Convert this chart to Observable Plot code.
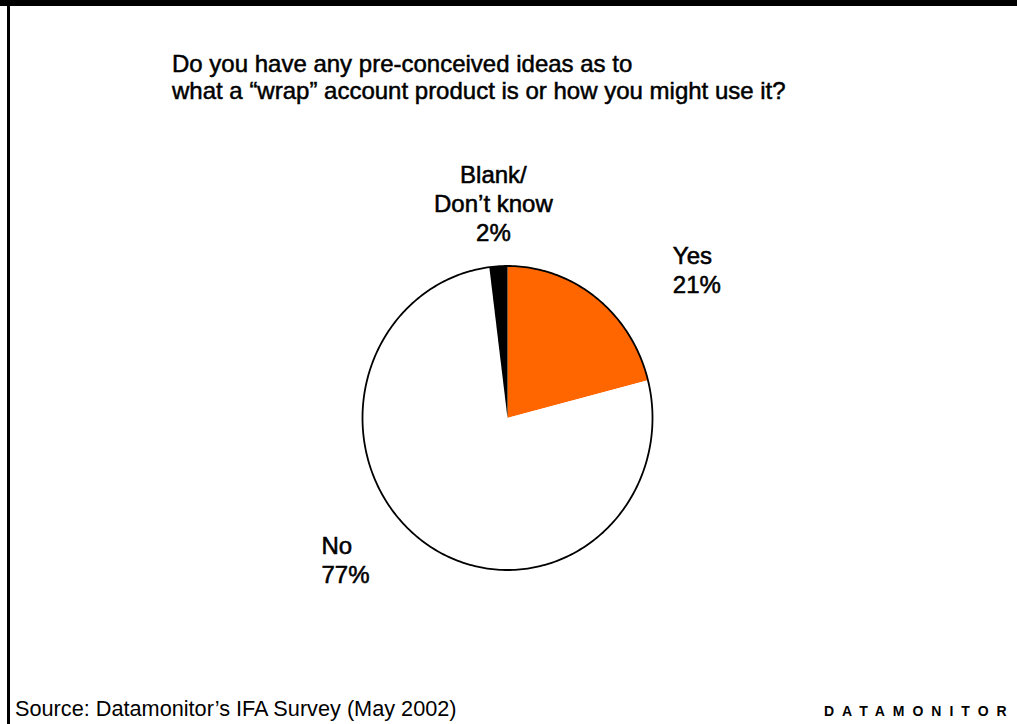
<!DOCTYPE html>
<html><head><meta charset="utf-8">
<script src="https://cdn.jsdelivr.net/npm/d3@7"></script>
<script src="https://cdn.jsdelivr.net/npm/@observablehq/plot@0.6"></script>
<style>
html,body{margin:0;padding:0;background:#fff;}
#page{position:relative;width:1017px;height:724px;overflow:hidden;background:#fff;font-family:"Liberation Sans",Arial,sans-serif;color:#000;}
#topbar{position:absolute;left:0;top:0;width:1017px;height:5.5px;background:#000;}
#leftbar{position:absolute;left:7px;top:0;width:2.5px;height:724px;background:#000;}
#chart{position:absolute;left:0;top:0;}
#title{position:absolute;left:172px;top:50.2px;font-size:24px;line-height:27px;-webkit-text-stroke:0.5px #000;white-space:nowrap;}
#source{position:absolute;left:15px;top:697px;font-size:21.7px;line-height:24px;white-space:nowrap;}
#brand{position:absolute;left:824px;top:704px;font-size:14px;line-height:14px;font-weight:bold;letter-spacing:8px;white-space:nowrap;}
</style></head>
<body>
<div id="page">
  <div id="chart"></div>
  <div id="topbar"></div>
  <div id="leftbar"></div>
  <div id="title"></div>
  <div id="source"></div>
  <div id="brand"></div>
</div>
<script>
// ---- data ----
const categories = ["Yes", "No", "Blank/\nDon’t know"];
const values = [21, 77, 2];
const valueLabels = ["21%", "77%", "2%"];
const colors = ["#FF6600", "#FFFFFF", "#000000"];
const titleLines = ["Do you have any pre-conceived ideas as to", "what a “wrap” account product is or how you might use it?"];
const sourceText = "Source: Datamonitor’s IFA Survey (May 2002)";
const brandText = "DATAMONITOR";

// ---- layout / style ----
const W = 1017, H = 724;
const cx = 507, cy = 417.5, rx = 145, ry = 152;
const fontSize = 24, lineHeight = 1.2;
// label placement relative to the slice's outer-edge midpoint: [dx, first-baseline dy, anchor]
const labelStyle = [[76.5, -34, "start"], [-104.5, 10, "start"], [-5, -83, "middle"]];

document.getElementById("title").innerHTML = titleLines.join("<br>");
document.getElementById("source").textContent = sourceText;
document.getElementById("brand").textContent = brandText;

const arcs = d3.pie().sort(null).value(d => d)(values);
const slicePts = [];
arcs.forEach((a, i) => {
  slicePts.push({cat: categories[i], x: 0, y: 0});
  const n = Math.max(2, Math.ceil((a.endAngle - a.startAngle) / 0.01));
  for (let k = 0; k <= n; k++) {
    const t = a.startAngle + (a.endAngle - a.startAngle) * k / n;
    slicePts.push({cat: categories[i], x: Math.sin(t), y: Math.cos(t)});
  }
  slicePts.push({cat: categories[i], x: 0, y: 0});
});
const rim = d3.range(0, 361).map(d => ({x: Math.sin(d * Math.PI / 180), y: Math.cos(d * Math.PI / 180)}));

const labelMarks = arcs.map((a, i) => {
  const mid = (a.startAngle + a.endAngle) / 2;
  const [dx, dyBase, anchor] = labelStyle[i];
  return Plot.text([{x: Math.sin(mid), y: Math.cos(mid), t: categories[i] + "\n" + valueLabels[i]}], {
    x: "x", y: "y", text: "t",
    dx, dy: dyBase - 0.71 * lineHeight * fontSize,
    textAnchor: anchor, lineAnchor: "top", lineHeight,
    fontSize, fontFamily: "Liberation Sans, Arial, sans-serif",
    fill: "#000", stroke: "#000", strokeWidth: 0.55
  });
});

const chart = Plot.plot({
  width: W, height: H,
  margin: 0,
  x: {domain: [-cx / rx, (W - cx) / rx], axis: null},
  y: {domain: [-(H - cy) / ry, cy / ry], axis: null},
  color: {domain: categories, range: colors},
  style: {background: "transparent"},
  marks: [
    Plot.line(slicePts, {x: "x", y: "y", z: "cat", fill: "cat", stroke: "none"}),
    Plot.line(rim, {x: "x", y: "y", stroke: "#000", strokeWidth: 1.8}),
    ...labelMarks
  ]
});
document.getElementById("chart").appendChild(chart);
</script>
</body></html>
